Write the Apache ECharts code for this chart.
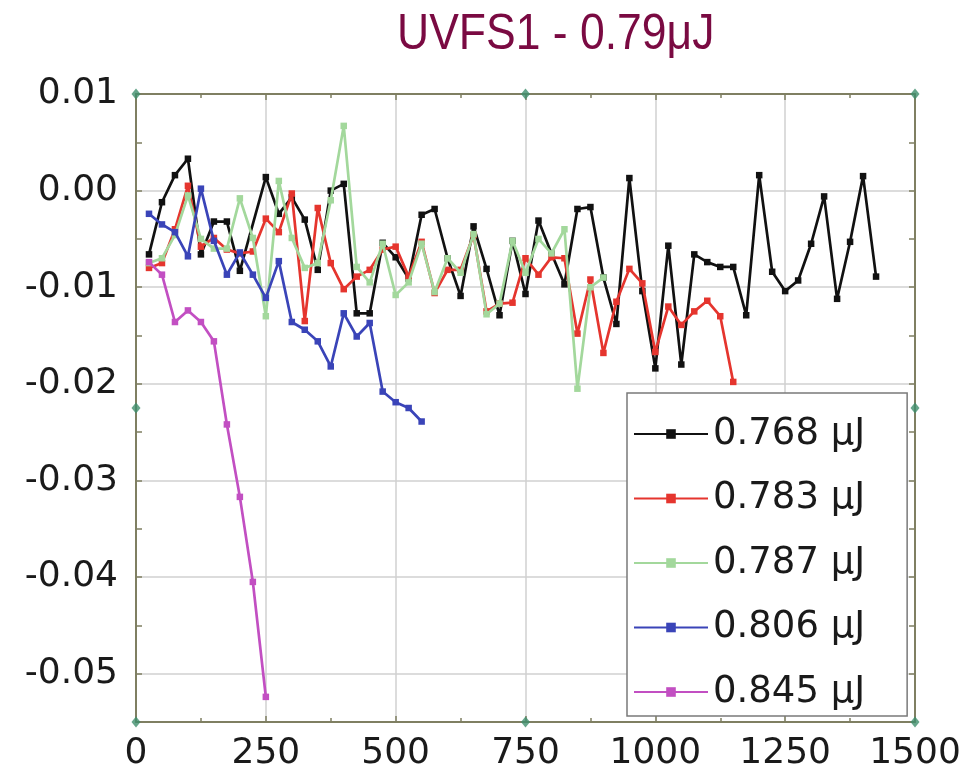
<!DOCTYPE html>
<html><head><meta charset="utf-8">
<script src="https://cdn.jsdelivr.net/npm/echarts@6/dist/echarts.min.js"></script>
<style>html,body{margin:0;padding:0;background:#fff}#c{width:968px;height:778px}</style>
</head><body><div id="c"></div>
<script>
// ---- data ----
const titleText = 'UVFS1 - 0.79μJ';
const seriesNames = ['0.768 μJ', '0.783 μJ', '0.787 μJ', '0.806 μJ', '0.845 μJ'];

const x768 = [25,50,75,100,125,150,175,200,250,275,300,325,350,375,400,425,450,475,500,525,550,575,600,625,650,675,700,725,750,775,800,825,850,875,900,925,950,975,1000,1025,1050,1075,1100,1125,1150,1175,1200,1225,1250,1275,1300,1325,1350,1375,1400,1425];
const y768 = [-0.0066,-0.0012,0.0016,0.0033,-0.0066,-0.0032,-0.0032,-0.0083,0.0014,-0.0024,-0.0007,-0.0030,-0.0082,0.0000,0.0007,-0.0127,-0.0127,-0.0054,-0.0069,-0.0091,-0.0025,-0.0019,-0.0070,-0.0109,-0.0037,-0.0081,-0.0129,-0.0052,-0.0107,-0.0031,-0.0065,-0.0097,-0.0019,-0.0017,-0.0090,-0.0138,0.0013,-0.0104,-0.0184,-0.0057,-0.0180,-0.0066,-0.0074,-0.0079,-0.0079,-0.0129,0.0016,-0.0084,-0.0104,-0.0093,-0.0055,-0.0006,-0.0112,-0.0053,0.0015,-0.0089];

const x783 = [25,50,75,100,125,150,175,200,225,250,275,300,325,350,375,400,425,450,475,500,525,550,575,600,625,650,675,700,725,750,775,800,825,850,875,900,925,950,975,1000,1025,1050,1075,1100,1125,1150];
const y783 = [-0.0080,-0.0075,-0.0040,0.0005,-0.0058,-0.0049,-0.0061,-0.0065,-0.0063,-0.0029,-0.0043,-0.0003,-0.0135,-0.0018,-0.0075,-0.0102,-0.0089,-0.0082,-0.0061,-0.0058,-0.0089,-0.0053,-0.0106,-0.0082,-0.0082,-0.0046,-0.0125,-0.0117,-0.0116,-0.0070,-0.0087,-0.0069,-0.0070,-0.0148,-0.0092,-0.0168,-0.0115,-0.0081,-0.0096,-0.0167,-0.0120,-0.0139,-0.0125,-0.0114,-0.0130,-0.0198];

const x787 = [25,50,75,100,125,150,175,200,225,250,275,300,325,350,375,400,425,450,475,500,525,550,575,600,625,650,675,700,725,750,775,800,825,850,875,900];
const y787 = [-0.0075,-0.0070,-0.0046,-0.0005,-0.0050,-0.0060,-0.0060,-0.0008,-0.0049,-0.0130,0.0010,-0.0049,-0.0080,-0.0075,-0.0010,0.0067,-0.0079,-0.0095,-0.0055,-0.0108,-0.0095,-0.0055,-0.0105,-0.0070,-0.0085,-0.0045,-0.0128,-0.0117,-0.0052,-0.0085,-0.0050,-0.0065,-0.0040,-0.0205,-0.0100,-0.0090];

const x806 = [25,50,75,100,125,150,175,200,225,250,275,300,325,350,375,400,425,450,475,500,525,550];
const y806 = [-0.0024,-0.0035,-0.0043,-0.0068,0.0002,-0.0052,-0.0087,-0.0064,-0.0087,-0.0111,-0.0073,-0.0136,-0.0144,-0.0156,-0.0182,-0.0127,-0.0151,-0.0137,-0.0208,-0.0219,-0.0225,-0.0239];

const x845 = [25,50,75,100,125,150,175,200,225,250];
const y845 = [-0.0074,-0.0087,-0.0136,-0.0124,-0.0136,-0.0156,-0.0242,-0.0317,-0.0405,-0.0524];

const xMin = 0, xMax = 1500, xStep = 250;
const yMin = -0.055, yMax = 0.01, yStep = 0.005;

// ---- chart ----
const colors = ['#111111', '#e5352e', '#a3d89c', '#3a44b8', '#c24fc2'];
const xs = [x768, x783, x787, x806, x845];
const ys = [y768, y783, y787, y806, y845];
const zip = (a, b) => a.map((v, i) => [v, b[i]]);

const axisCol = '#7f7f62';
const labelFont = 'DejaVu Sans';

const lineSeries = seriesNames.map((n, i) => ({
  name: n, type: 'line', xAxisIndex: 0, yAxisIndex: 0,
  data: zip(xs[i], ys[i]),
  symbol: 'rect', symbolSize: 6.5, showSymbol: true,
  lineStyle: { color: colors[i], width: 2.7 },
  itemStyle: { color: colors[i] },
  z: 3 + i, animation: false
}));

const xMid = (xMin + xMax) / 2, yMid = (yMin + yMax) / 2;
const diamondSeries = {
  type: 'scatter', xAxisIndex: 0, yAxisIndex: 0, silent: true, clip: false, animation: false,
  symbol: 'diamond', symbolSize: [9, 11], itemStyle: { color: '#3e8f6d' }, z: 20,
  data: [[xMin, yMax], [xMid, yMax], [xMax, yMax], [xMin, yMid], [xMax, yMid], [xMin, yMin], [xMid, yMin], [xMax, yMin]]
};

const yFmt = v => {
  const k = Math.round(v * 1000);
  if (k % 10 !== 0) return '';
  const r = k / 1000;
  return (r === 0 ? 0 : r).toFixed(2);
};
const xFmt = v => String(Math.round(v));

const baseX = {
  type: 'value', min: xMin, max: xMax, interval: xStep,
  axisLine: { show: true, onZero: false, lineStyle: { color: axisCol, width: 2 } },
  axisTick: { show: true, inside: true, length: 6, lineStyle: { color: axisCol, width: 1.5 } },
  minorTick: { show: true, splitNumber: 2, length: 4, lineStyle: { color: axisCol, width: 1.5 } }
};
const baseY = {
  type: 'value', min: yMin, max: yMax, interval: yStep,
  axisLine: { show: true, onZero: false, lineStyle: { color: axisCol, width: 2 } },
  axisTick: { show: true, inside: true, length: 6, lineStyle: { color: axisCol, width: 1.5 } }
};

const chart = echarts.init(document.getElementById('c'), null, { renderer: 'canvas' });
chart.setOption({
  backgroundColor: '#ffffff',
  animation: false,
  graphic: [{
    type: 'text', left: 397, top: 10, scaleX: 0.89, z: 50,
    style: { text: titleText, fontFamily: 'Liberation Sans', fontSize: 50, fill: '#7a0a42' }
  }],
  grid: { left: 136, top: 94, width: 779, height: 628, containLabel: false },
  legend: {
    orient: 'vertical', left: 627, top: 393,
    data: seriesNames,
    backgroundColor: '#ffffff', borderColor: '#7a7a7a', borderWidth: 1.5,
    padding: [21, 42, 4, 6],
    itemWidth: 74, itemHeight: 12, itemGap: 24.5,
    textStyle: { fontFamily: labelFont, fontSize: 37, color: '#1a1a1a', lineHeight: 40 },
    z: 30
  },
  xAxis: [
    Object.assign({}, baseX, {
      position: 'bottom',
      axisLabel: { show: true, margin: 14, fontFamily: labelFont, fontSize: 36, color: '#1a1a1a', formatter: xFmt },
      splitLine: { show: true, lineStyle: { color: '#d0d0d0', width: 1.5 } }
    }),
    Object.assign({}, baseX, {
      position: 'top', axisLabel: { show: false }, splitLine: { show: false }
    })
  ],
  yAxis: [
    Object.assign({}, baseY, {
      position: 'left',
      axisLabel: { show: true, margin: 18, fontFamily: labelFont, fontSize: 36, color: '#1a1a1a', formatter: yFmt },
      splitLine: { show: true, lineStyle: { color: ['transparent', '#d0d0d0'], width: 1.5 } }
    }),
    Object.assign({}, baseY, {
      position: 'right', axisLabel: { show: false }, splitLine: { show: false }
    })
  ],
  series: lineSeries.concat([diamondSeries])
});
</script></body></html>
